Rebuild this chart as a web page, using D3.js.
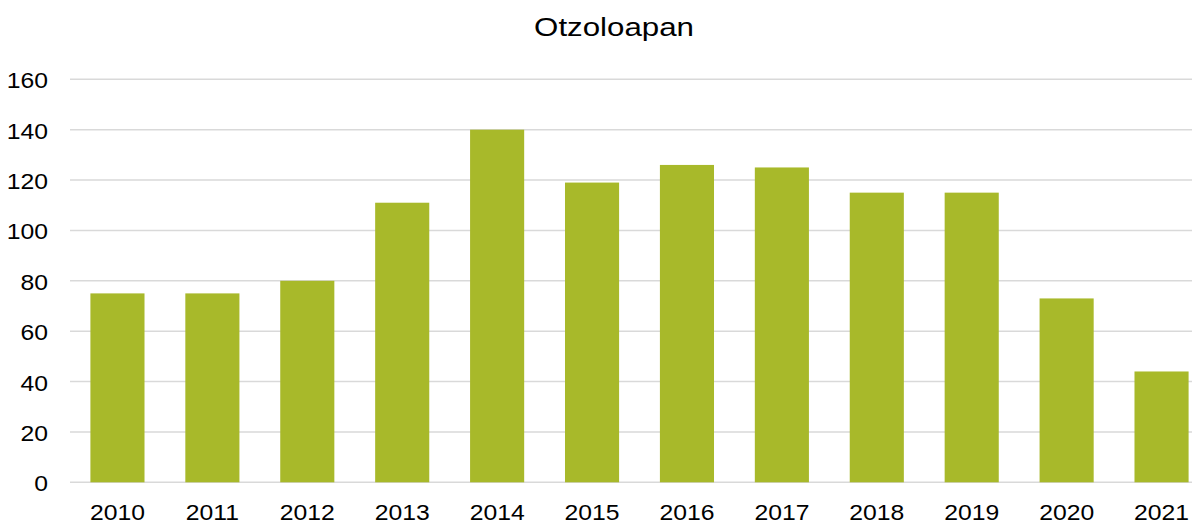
<!DOCTYPE html>
<html><head><meta charset="utf-8">
<script src="https://cdn.jsdelivr.net/npm/d3@7"></script>
<style>html,body{margin:0;padding:0;background:#fff;overflow:hidden}</style>
</head><body>
<svg id="c" width="1192" height="522"></svg>
<script>
const categories = ["2010","2011","2012","2013","2014","2015","2016","2017","2018","2019","2020","2021"];
const values = [75, 75, 80, 111, 140, 119, 126, 125, 115, 115, 73, 44];
const yTicks = [0, 20, 40, 60, 80, 100, 120, 140, 160];
const title = "Otzoloapan";

const svg = d3.select("#c");
const font = "'Liberation Sans', Arial, sans-serif";
const x = d3.scaleBand().domain(categories).range([70, 1209]).paddingInner(0.43).paddingOuter(0.215);
const y = d3.scaleLinear().domain([0, 160]).range([482.3, 79.3]);

svg.append("g").selectAll("line").data(yTicks).join("line")
  .attr("x1", 70).attr("x2", 1192)
  .attr("y1", d => y(d)).attr("y2", d => y(d))
  .attr("stroke", "#d9d9d9").attr("stroke-width", 1.5);

svg.append("g").selectAll("rect").data(values).join("rect")
  .attr("x", (d, i) => x(categories[i]))
  .attr("width", x.bandwidth())
  .attr("y", d => y(d))
  .attr("height", d => y(0) - y(d))
  .attr("fill", "#a8b92a");

svg.append("g").selectAll("text").data(yTicks).join("text")
  .attr("transform", d => `translate(48,${y(d) + 9}) scale(1.15,1)`)
  .attr("text-anchor", "end")
  .attr("font-family", font).attr("font-size", 21.5).attr("fill", "#000")
  .text(d => d);

svg.append("g").selectAll("text").data(categories).join("text")
  .attr("transform", d => `translate(${x(d) + x.bandwidth() / 2},520) scale(1.15,1)`)
  .attr("text-anchor", "middle")
  .attr("font-family", font).attr("font-size", 21.5).attr("fill", "#000")
  .text(d => d);

svg.append("text")
  .attr("transform", "translate(614,36) scale(1.18,1)")
  .attr("text-anchor", "middle")
  .attr("font-family", font).attr("font-size", 26.5).attr("fill", "#000")
  .text(title);
</script>
</body></html>
